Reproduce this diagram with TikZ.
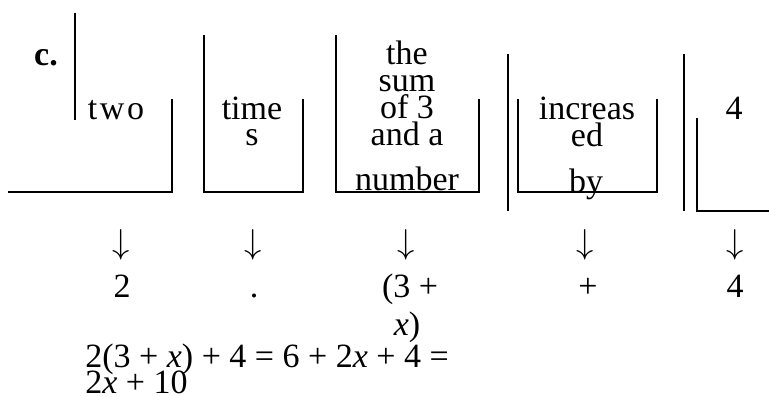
\documentclass[tikz,border=0pt]{standalone}
\usepackage{fontspec}
\setmainfont{Liberation Serif}
\begin{document}
\begin{tikzpicture}[x=0.5pt, y=-0.5pt,
    every node/.style={font=\fontsize{17}{17}\selectfont, inner sep=0, anchor=base},
    rule/.style={line width=1pt}]
    \useasboundingbox (0,0) rectangle (769,396);

    % word cells
    \node (lbl) at (46,65) {\textbf{c.}};
    \node (two) at (116,119) {\addfontfeature{LetterSpace=8}two};
    \node (time) at (252,119) {time};
    \node (times) at (252,145) {s};
    \foreach \w [count=\i] in {the, sum, of 3, and a}
        \node (sum\i) at (407,37+27*\i) {\w};
    \node (number) at (407,190) {number};
    \node (incr) at (587,119) {increas};
    \node (ed) at (587,146) {ed};
    \node (by) at (586,192) {by};
    \node (four) at (734,119) {4};

    % cell rules
    \draw[rule] (75,13) -- (75,120);
    \draw[rule] (8,192) -- (172,192) -- (172,99);
    \draw[rule] (204,35) -- (204,192) -- (303,192) -- (303,99);
    \draw[rule] (336,35) -- (336,192) -- (479,192) -- (479,99);
    \draw[rule] (508,54) -- (508,211);
    \draw[rule] (518,99) -- (518,192) -- (657,192) -- (657,99);
    \draw[rule] (684,54) -- (684,211);
    \draw[rule] (697,118) -- (697,211) -- (769,211);

    % arrows and values
    \foreach \x [count=\i] in {121,253,406,585,735}
        \node (arr\i) at (\x,253) {$\downarrow$};
    \node (v2) at (122,297) {2};
    \node (vdot) at (254,297) {.};
    \node (vsum) at (410,297) {(3 +};
    \node (vx) at (407,335) {\textit{x})};
    \node (vplus) at (588,297) {+};
    \node (v4) at (735,297) {4};

    % result
    \node (eq1) at (85,367) [anchor=base west] {2(3 + \textit{x}) + 4 = 6 + 2\textit{x} + 4 =};
    \node (eq2) at (85,393) [anchor=base west] {2\textit{x} + 10};
\end{tikzpicture}
\end{document}
